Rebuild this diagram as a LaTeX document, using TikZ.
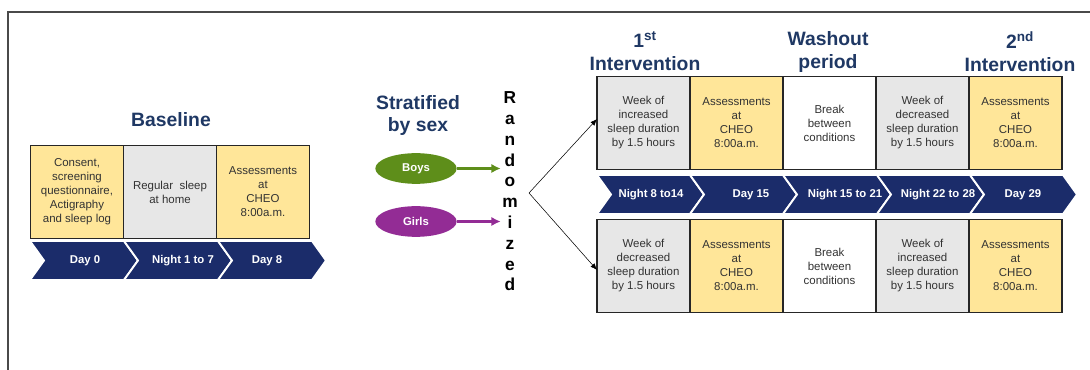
\documentclass[tikz,border=0pt]{standalone}
\usepackage{fontspec}
\setmainfont{Liberation Sans}
\usetikzlibrary{arrows.meta, positioning, calc, shapes.geometric}
\definecolor{titlenavy}{HTML}{1F3864}
\definecolor{chevronnavy}{HTML}{1B2C6A}
\definecolor{assessyellow}{HTML}{FFE699}
\definecolor{sleepgray}{HTML}{E7E7E7}
\definecolor{boysgreen}{HTML}{5E8E1A}
\definecolor{girlspurple}{HTML}{932C95}
\definecolor{framegray}{HTML}{4A4A4A}

\begin{document}
\begin{tikzpicture}[
      x=0.75pt, y=-0.75pt,
      period/.style={draw=black!85, line width=1.2pt, minimum width=69.75pt,
        minimum height=70pt, inner sep=1pt, outer sep=0pt, align=center,
        text=black!80, font=\fontsize{8.6}{10.5}\selectfont},
      heading/.style={text=titlenavy, align=center,
        font=\bfseries\fontsize{14.5}{17}\selectfont},
      chevronpart/.style={fill=chevronnavy, draw=white, line width=1.4pt},
      daylabel/.style={text=white, font=\bfseries\fontsize{8.5}{10}\selectfont},
      sexgroup/.style={ellipse, minimum width=61pt, minimum height=23pt,
        inner sep=0pt, text=white, font=\bfseries\fontsize{8.5}{10}\selectfont},
      >=Latex
    ]
      \useasboundingbox (0,0) rectangle (1090,370);
      \draw[framegray, line width=1.4pt] (8,370) -- (8,12) -- (1090,12);

      % baseline week
      \node[heading] (baseline) at (171,120) {Baseline};
      \node[period, fill=assessyellow] (consent) at (77,192)
        {Consent,\\screening\\questionnaire,\\Actigraphy\\and sleep log};
      \node[period, fill=sleepgray, right=0pt of consent] (regular)
        {Regular\ \ sleep\\at home};
      \node[period, fill=assessyellow, right=0pt of regular] (baseassess)
        {Assessments\\at\\CHEO\\8:00a.m.};
      \foreach \a/\b/\lx/\lab [count=\i] in
          {30/124/85/Day 0, 124/218/183/Night 1 to 7, 218/312/267/Day 8} {
        \filldraw[chevronpart] (\a,241) -- (\b,241) -- (\b+14,260.5)
          -- (\b,280) -- (\a,280) -- (\a+14,260.5) -- cycle;
        \node[daylabel] (baseday\i) at (\lx,260.5) {\lab};
      }

      % stratification and randomisation
      \node[heading, font=\bfseries\fontsize{14.5}{16.5}\selectfont] (strat) at (418,116)
        {Stratified\\by sex};
      \node[sexgroup, fill=boysgreen] (boys) at (416,168.5) {Boys};
      \node[sexgroup, fill=girlspurple] (girls) at (416,221.5) {Girls};
      \node[align=center, inner sep=1pt, font=\bfseries\fontsize{13}{15.6}\selectfont]
        (rand) at (510,191.5) {R\\a\\n\\d\\o\\m\\i\\z\\e\\d};
      \draw[-{Latex[length=7pt,width=7pt]}, boysgreen, line width=1.7pt]
        (boys) -- (boys -| rand.west);
      \draw[-{Latex[length=7pt,width=7pt]}, girlspurple, line width=1.7pt]
        (girls) -- (girls -| rand.west);
      \coordinate (fork) at (529,193);

      % crossover, first order
      \node[heading] (first) at (645,51.5) {1\textsuperscript{st}\\Intervention};
      \node[heading] (washout) at (828,52) {Washout\\period};
      \node[heading] (second) at (1020,51.5) {2\textsuperscript{nd}\\Intervention};
      \node[period, fill=sleepgray] (topweek1) at (643.5,123)
        {Week of\\increased\\sleep duration\\by 1.5 hours};
      \node[period, fill=assessyellow, right=0pt of topweek1] (topassess1)
        {Assessments\\at\\CHEO\\8:00a.m.};
      \node[period, fill=white, right=0pt of topassess1] (topbreak)
        {Break\\between\\conditions};
      \node[period, fill=sleepgray, right=0pt of topbreak] (topweek2)
        {Week of\\decreased\\sleep duration\\by 1.5 hours};
      \node[period, fill=assessyellow, right=0pt of topweek2] (topassess2)
        {Assessments\\at\\CHEO\\8:00a.m.};

      % shared time line
      \foreach \a/\b/\lx/\lab [count=\i] in
          {597/690/651/Night 8 to14, 690/783/751/Day 15, 783/877/845/Night 15 to 21,
           877/970/938/Night 22 to 28, 970/1063/1023/Day 29} {
        \filldraw[chevronpart] (\a,175) -- (\b,175) -- (\b+14,194.5)
          -- (\b,214) -- (\a,214) -- (\a+14,194.5) -- cycle;
        \node[daylabel] (studyday\i) at (\lx,194.5) {\lab};
      }

      % crossover, second order
      \node[period, fill=sleepgray] (botweek1) at (643.5,266)
        {Week of\\decreased\\sleep duration\\by 1.5 hours};
      \node[period, fill=assessyellow, right=0pt of botweek1] (botassess1)
        {Assessments\\at\\CHEO\\8:00a.m.};
      \node[period, fill=white, right=0pt of botassess1] (botbreak)
        {Break\\between\\conditions};
      \node[period, fill=sleepgray, right=0pt of botbreak] (botweek2)
        {Week of\\increased\\sleep duration\\by 1.5 hours};
      \node[period, fill=assessyellow, right=0pt of botweek2] (botassess2)
        {Assessments\\at\\CHEO\\8:00a.m.};

      \draw[-{Latex[length=5pt,width=4pt]}, thin] (fork) -- ([yshift=3pt]topweek1.west);
      \draw[-{Latex[length=5pt,width=4pt]}, thin] (fork) -- ([yshift=-3pt]botweek1.west);
    \end{tikzpicture}
\end{document}
